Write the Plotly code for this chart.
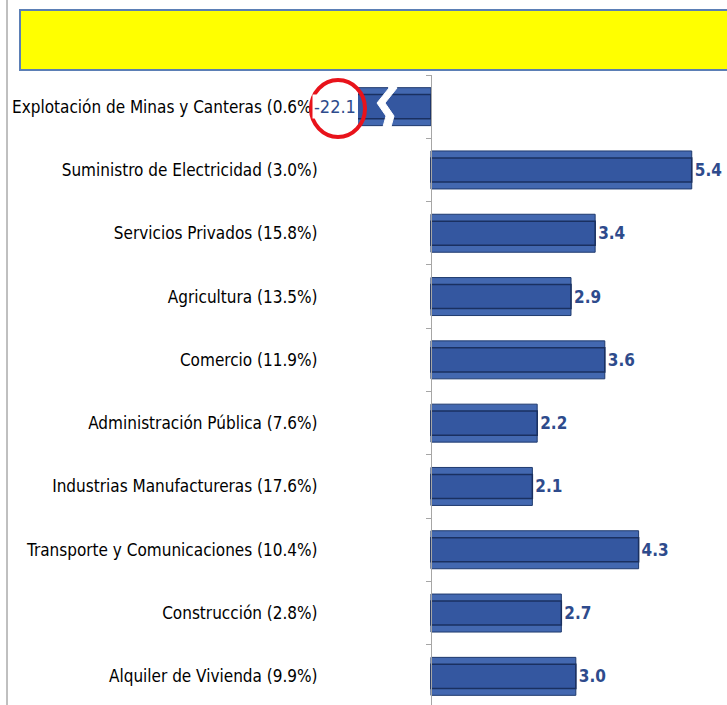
import plotly.graph_objects as go

categories = [
    "Explotación de Minas y Canteras (0.6%)",
    "Suministro de Electricidad (3.0%)",
    "Servicios Privados (15.8%)",
    "Agricultura (13.5%)",
    "Comercio (11.9%)",
    "Administración Pública (7.6%)",
    "Industrias Manufactureras (17.6%)",
    "Transporte y Comunicaciones (10.4%)",
    "Construcción (2.8%)",
    "Alquiler de Vivienda (9.9%)",
]
values = [-22.1, 5.4, 3.4, 2.9, 3.6, 2.2, 2.1, 4.3, 2.7, 3.0]

W, H = 727, 708
ML, MR, MT, MB = 358, 0, 75, 0
PW, PH = W - ML - MR, H - MT - MB


def px(x):
    return (x - ML) / PW


def py(y):
    return (H - MB - y) / PH


FONT = "DejaVu Sans Condensed, sans-serif"
LABEL_BLUE = "#2e4b8c"

bar_text = ["" if v < 0 else f"{v:.1f}" for v in values]

fig = go.Figure()
fig.add_trace(go.Bar(
    y=categories, x=values, orientation="h", width=0.6,
    marker=dict(color="#4368b0", line=dict(color="#1f3a6e", width=1)),
    text=bar_text, textposition="outside", cliponaxis=False,
    textfont=dict(family=FONT, size=17, color=LABEL_BLUE, weight="bold"),
    showlegend=False, hoverinfo="skip",
))
fig.add_trace(go.Bar(
    y=categories, x=values, orientation="h", width=0.38,
    marker=dict(color="#3457a0", line=dict(color="#1a3060", width=1.5)),
    showlegend=False, hoverinfo="skip",
))

# negative value label (bar is broken / truncated)
neg_idx = [i for i, v in enumerate(values) if v < 0]
annotations = []
for i in neg_idx:
    annotations.append(dict(
        x=0, xref="paper", y=categories[i], yref="y", xanchor="right",
        text=f"{values[i]:.1f}", showarrow=False, bgcolor="white",
        borderpad=1,
        font=dict(family=FONT, size=18, color=LABEL_BLUE),
    ))

shapes = [
    # left border line
    dict(type="line", xref="paper", yref="paper", x0=px(7), x1=px(7), y0=py(708), y1=py(0),
         line=dict(color="#808080", width=1)),
    # yellow title box
    dict(type="rect", xref="paper", yref="paper", x0=px(20), x1=px(740), y0=py(70), y1=py(10),
         fillcolor="#ffff00", line=dict(color="#5b7fb5", width=2)),
]

# zigzag break on truncated bar
C = [(389, 82), (393, 88), (381, 103), (390, 116), (385, 134)]
L = [(x - 4, y) for x, y in C]
R = [(x + 4, y) for x, y in C]
pts = L + R[::-1]
path = "M " + " L ".join(f"{px(x)},{py(y)}" for x, y in pts) + " Z"
shapes.append(dict(type="path", xref="paper", yref="paper", path=path,
                   fillcolor="white", line=dict(color="white", width=1)))
# red circle highlight
shapes.append(dict(type="circle", xref="paper", yref="paper",
                   x0=px(311), x1=px(365), y0=py(137), y1=py(80),
                   line=dict(color="#e8131b", width=4)))

fig.update_layout(
    width=W, height=H,
    margin=dict(l=ML, r=MR, t=MT, b=MB, pad=0, autoexpand=False),
    paper_bgcolor="white", plot_bgcolor="white",
    barmode="overlay",
    xaxis=dict(range=[-1.51, 6.13], visible=False, fixedrange=True, automargin=False),
    yaxis=dict(
        categoryorder="array", categoryarray=categories, autorange="reversed",
        anchor="free", position=px(431), automargin=False,
        showline=True, linecolor="#a6a6a6", linewidth=1,
        ticks="outside", ticklen=5, tickcolor="#a6a6a6", tickson="boundaries",
        ticklabelstandoff=110,
        tickfont=dict(family=FONT, size=17, color="black"),
        showgrid=False,
    ),
    shapes=shapes,
    annotations=annotations,
)

fig.write_html(
    "out.html",
    config={"displayModeBar": False},
    post_script="document.body.style.margin='0';document.body.style.overflow='hidden';",
)
